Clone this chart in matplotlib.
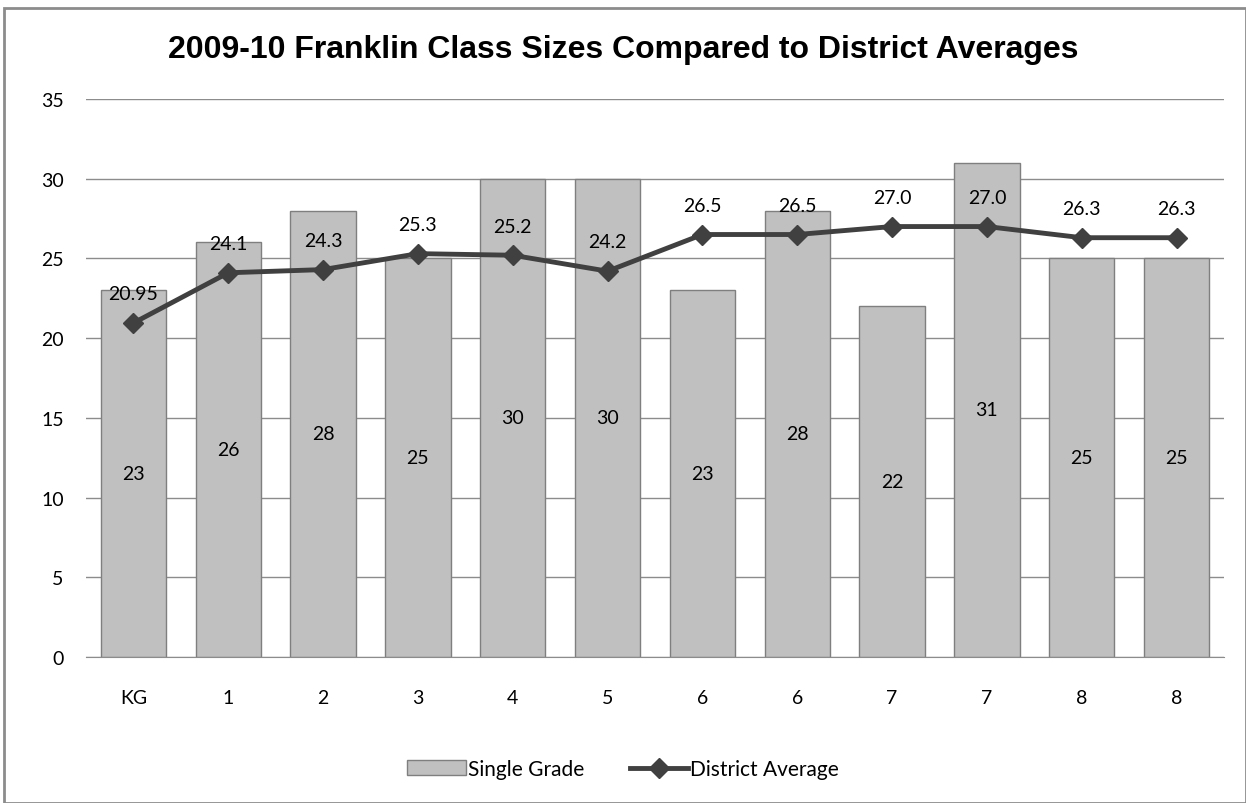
import matplotlib
matplotlib.use("Agg")
import matplotlib.pyplot as plt
from matplotlib.patches import Rectangle

categories = ["KG", "1", "2", "3", "4", "5", "6", "6", "7", "7", "8", "8"]
single_grade = [23, 26, 28, 25, 30, 30, 23, 28, 22, 31, 25, 25]
district_avg = [20.95, 24.1, 24.3, 25.3, 25.2, 24.2, 26.5, 26.5, 27.0, 27.0, 26.3, 26.3]
district_labels = ["20.95", "24.1", "24.3", "25.3", "25.2", "24.2", "26.5", "26.5", "27.0", "27.0", "26.3", "26.3"]

W, H = 1246, 804
fig = plt.figure(figsize=(W / 100, H / 100), dpi=100)
ax = fig.add_axes([86 / W, 1 - 658 / H, (1224 - 86) / W, (658 - 100) / H])

lab_font = "Lato"
x = list(range(len(categories)))
bars = ax.bar(x, single_grade, width=0.69, color="#c0c0c0", edgecolor="#7f7f7f", linewidth=1.0, zorder=2,
              label="Single Grade")
line, = ax.plot(x, district_avg, color="#404040", linewidth=3.5, marker="D", markersize=10,
                markerfacecolor="#404040", markeredgecolor="#404040", zorder=4, label="District Average")

for xi, v in zip(x, single_grade):
    ax.text(xi, v / 2, str(v), ha="center", va="center", fontsize=14, family=lab_font, color="#000000", zorder=5)
for xi, v, s in zip(x, district_avg, district_labels):
    ax.text(xi, v + 1.3, s, ha="center", va="bottom", fontsize=14, family=lab_font, color="#000000", zorder=5)

ax.set_xlim(-0.5, len(categories) - 0.5)
ax.set_ylim(0, 35)
ax.set_yticks(range(0, 36, 5))
ax.yaxis.grid(True, color="#8c8c8c", linewidth=1.0, zorder=0)
ax.set_axisbelow(True)
for side in ["top", "right", "left"]:
    ax.spines[side].set_visible(False)
ax.spines["bottom"].set_color("#8c8c8c")
ax.set_xticks(x)
ax.set_xticklabels(categories)
ax.tick_params(axis="both", length=0, labelsize=14)
ax.tick_params(axis="y", pad=16)
ax.tick_params(axis="x", pad=23)
for lbl in ax.get_xticklabels() + ax.get_yticklabels():
    lbl.set_fontfamily(lab_font)

fig.text(0.5, 1 - 50 / H, "2009-10 Franklin Class Sizes Compared to District Averages", ha="center", va="center",
         fontsize=23, fontweight="bold", family="Liberation Sans")

fig.legend([bars, line], ["Single Grade", "District Average"], loc="center",
           bbox_to_anchor=(0.5, 1 - 770 / H), ncol=2, frameon=False,
           prop={"family": lab_font, "size": 15}, handlelength=2.8, columnspacing=2.2, handletextpad=0.1)

fig.patches.append(Rectangle((4 / W, 0), 1 - 4 / W, 1 - 9 / H, transform=fig.transFigure, fill=False,
                             edgecolor="#8c8c8c", linewidth=2))
fig.savefig("out.png", dpi=100)
